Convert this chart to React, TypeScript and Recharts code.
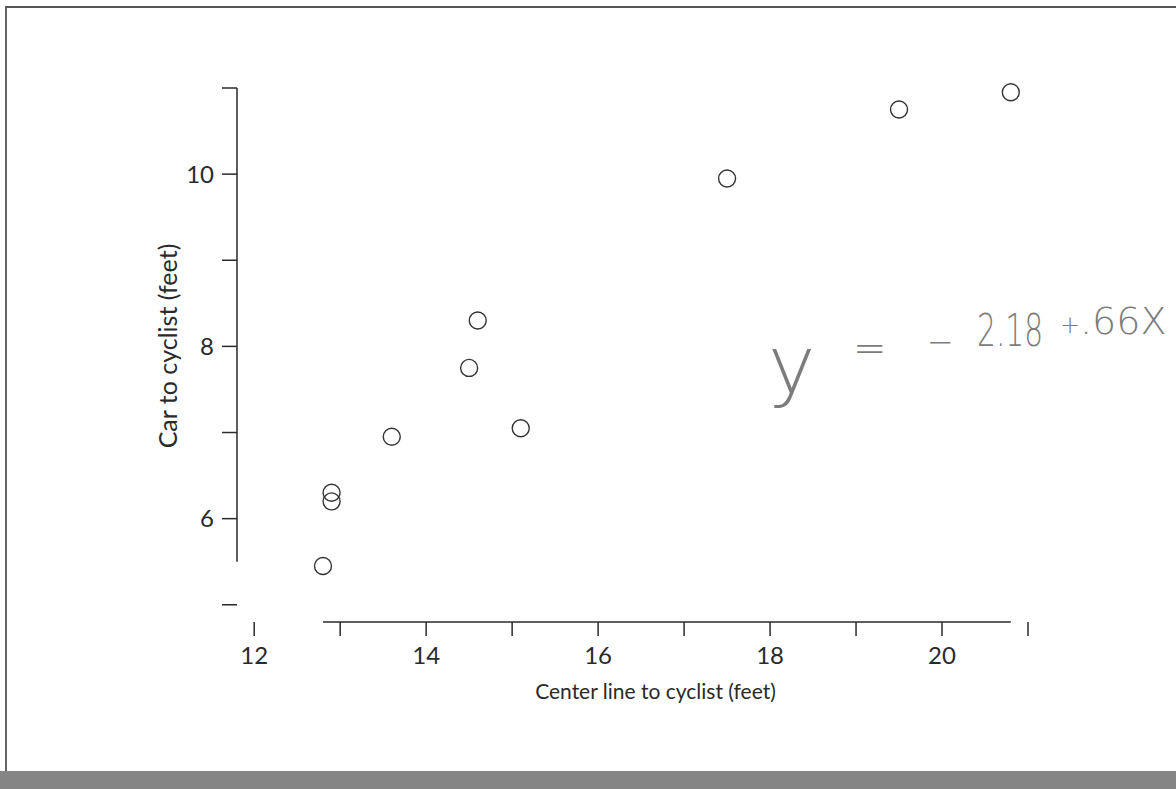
import {
  ScatterChart,
  Scatter,
  XAxis,
  YAxis,
  ReferenceLine,
} from "recharts";

// Distance from center line vs distance from passing car (feet)
const centerLine = [12.8, 12.9, 12.9, 13.6, 14.5, 14.6, 15.1, 17.5, 19.5, 20.8];
const carToCyclist = [5.45, 6.3, 6.2, 6.95, 7.75, 8.3, 7.05, 9.95, 10.75, 10.95];

const xTicks = [12, 13, 14, 15, 16, 17, 18, 19, 20, 21];
const yTicks = [5, 6, 7, 8, 9, 10, 11];
const xLabelled = [12, 14, 16, 18, 20];
const yLabelled = [6, 8, 10];

// range-frame extents of the axis lines
const xFrame = [12.8, 20.8];
const yFrame = [5.5, 11];

const points = centerLine.map((x, i) => ({ x, y: carToCyclist[i] }));

const font = "Lato, 'Open Sans', sans-serif";
const ink = "#2a2a2a";
const pencil = "#7c7c7c";

// y-axis title, centred a little above the plot middle like the original
const YTitle = (props: any) => {
  const vb = props.viewBox || {};
  const cx = vb.x + 10;
  const cy = vb.y + vb.height / 2 - 9;
  return (
    <text
      x={cx}
      y={cy}
      transform={`rotate(-90, ${cx}, ${cy})`}
      textAnchor="middle"
      dominantBaseline="central"
      fill={ink}
      fontSize={25}
      fontFamily={font}
    >
      Car to cyclist (feet)
    </text>
  );
};

// x-axis title sits a bit right of the plot centre in the original
const XTitle = (props: any) => {
  const vb = props.viewBox || {};
  return (
    <text
      x={vb.x + vb.width / 2 + 23}
      y={vb.y + 68}
      textAnchor="middle"
      dominantBaseline="central"
      fill={ink}
      fontSize={21}
      fontFamily={font}
    >
      Center line to cyclist (feet)
    </text>
  );
};

// pieces of the pencilled regression line note
const note = [
  { t: "y", left: 768, top: 326, size: 80, sx: 1 },
  { t: "=", left: 853, top: 328, size: 40, sx: 1 },
  { t: "−", left: 927, top: 326, size: 32, sx: 1 },
  { t: "2.18", left: 977, top: 308, size: 45, sx: 0.66 },
  { t: "+", left: 1060, top: 313, size: 24, sx: 1 },
  { t: ".66X", left: 1080, top: 302, size: 38, sx: 1 },
];

export default function App() {
  return (
    <div
      style={{
        position: "absolute",
        left: 0,
        top: 0,
        width: 1176,
        height: 789,
        background: "#fff",
        overflow: "hidden",
        fontFamily: font,
      }}
    >
      {/* scanned page frame */}
      <div
        style={{
          position: "absolute",
          left: 5,
          top: 6,
          width: 1180,
          height: 770,
          borderTop: "2px solid #555",
          borderLeft: "2px solid #666",
        }}
      />
      <div
        style={{
          position: "absolute",
          left: 0,
          top: 771,
          width: 1176,
          height: 18,
          background: "#858585",
        }}
      />

      <ScatterChart
        width={1176}
        height={789}
        margin={{ top: 88, right: 148, bottom: 87, left: 157 }}
        style={{ position: "absolute", left: 0, top: 0 }}
      >
        <XAxis
          type="number"
          dataKey="x"
          domain={[11.8, 21]}
          ticks={xTicks}
          axisLine={false}
          tickLine={{ stroke: ink, strokeWidth: 1.5 }}
          tickSize={14}
          tickMargin={11}
          height={80}
          tick={{ fill: ink, fontSize: 24, fontFamily: font }}
          tickFormatter={(v: number) => (xLabelled.includes(v) ? String(v) : "")}
          label={<XTitle />}
        />
        <YAxis
          type="number"
          dataKey="y"
          domain={[4.8, 11]}
          ticks={yTicks}
          axisLine={false}
          tickLine={{ stroke: ink, strokeWidth: 1.5 }}
          tickSize={15}
          tickMargin={8}
          width={80}
          tick={{ fill: ink, fontSize: 24, fontFamily: font }}
          tickFormatter={(v: number) => (yLabelled.includes(v) ? String(v) : "")}
          label={<YTitle />}
        />
        <ReferenceLine
          segment={[
            { x: xFrame[0], y: 4.8 },
            { x: xFrame[1], y: 4.8 },
          ]}
          stroke={ink}
          strokeWidth={1.5}
          ifOverflow="visible"
        />
        <ReferenceLine
          segment={[
            { x: 11.8, y: yFrame[0] },
            { x: 11.8, y: yFrame[1] },
          ]}
          stroke={ink}
          strokeWidth={1.5}
          ifOverflow="visible"
        />
        <Scatter
          data={points}
          isAnimationActive={false}
          shape={(p: any) => (
            <circle
              cx={p.cx}
              cy={p.cy}
              r={8.5}
              fill="none"
              stroke="#333"
              strokeWidth={1.4}
            />
          )}
        />
      </ScatterChart>

      {/* handwritten note on the page */}
      {note.map((n) => (
        <span
          key={n.t}
          style={{
            position: "absolute",
            left: n.left,
            top: n.top,
            fontFamily: "'DejaVu Sans', sans-serif",
            fontWeight: 200,
            fontSize: n.size,
            lineHeight: 1,
            color: pencil,
            whiteSpace: "nowrap",
            transform: `scaleX(${n.sx})`,
            transformOrigin: "left center",
          }}
        >
          {n.t}
        </span>
      ))}
    </div>
  );
}
